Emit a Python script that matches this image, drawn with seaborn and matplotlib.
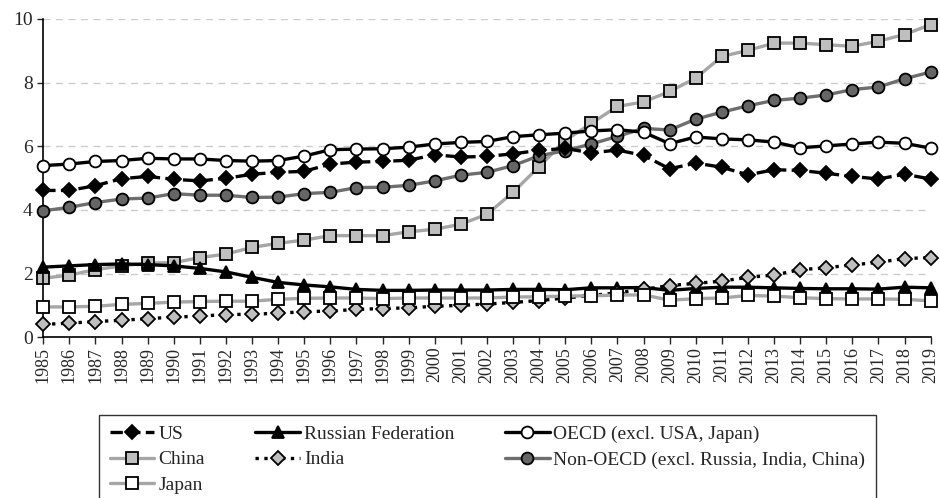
import matplotlib
matplotlib.use("Agg")
import matplotlib.pyplot as plt
import seaborn as sns
import pandas as pd

years = list(range(1985, 2020))

us = [4.61, 4.61, 4.76, 4.98, 5.05, 4.96, 4.91, 4.99, 5.12, 5.18,
      5.21, 5.44, 5.50, 5.52, 5.56, 5.73, 5.66, 5.68, 5.76, 5.87,
      5.93, 5.79, 5.88, 5.71, 5.29, 5.47, 5.34, 5.10, 5.26, 5.24,
      5.15, 5.05, 4.97, 5.12, 4.97]
russia = [2.20, 2.24, 2.28, 2.30, 2.28, 2.24, 2.16, 2.05, 1.88, 1.72,
          1.64, 1.58, 1.50, 1.47, 1.47, 1.48, 1.48, 1.48, 1.50, 1.50,
          1.49, 1.55, 1.55, 1.56, 1.47, 1.53, 1.57, 1.57, 1.55, 1.53,
          1.52, 1.52, 1.51, 1.57, 1.55]
oecd = [5.39, 5.44, 5.52, 5.55, 5.62, 5.60, 5.60, 5.55, 5.53, 5.55,
        5.69, 5.89, 5.91, 5.92, 5.97, 6.07, 6.12, 6.15, 6.30, 6.36,
        6.41, 6.48, 6.52, 6.44, 6.08, 6.29, 6.23, 6.20, 6.13, 5.95,
        6.01, 6.07, 6.13, 6.09, 5.94]
china = [1.85, 1.95, 2.12, 2.24, 2.33, 2.34, 2.50, 2.61, 2.82, 2.95,
         3.05, 3.19, 3.19, 3.19, 3.31, 3.39, 3.55, 3.86, 4.55, 5.36,
         6.18, 6.72, 7.25, 7.39, 7.72, 8.14, 8.82, 9.01, 9.24, 9.24,
         9.19, 9.14, 9.30, 9.51, 9.82]
india = [0.40, 0.44, 0.49, 0.53, 0.58, 0.63, 0.66, 0.71, 0.72, 0.75,
         0.80, 0.82, 0.87, 0.90, 0.92, 0.97, 1.00, 1.04, 1.09, 1.15,
         1.23, 1.31, 1.39, 1.50, 1.62, 1.69, 1.76, 1.88, 1.95, 2.12,
         2.18, 2.27, 2.35, 2.47, 2.50]
non_oecd = [3.97, 4.08, 4.23, 4.34, 4.37, 4.51, 4.46, 4.46, 4.39, 4.40,
            4.51, 4.55, 4.70, 4.71, 4.77, 4.91, 5.09, 5.18, 5.39, 5.70,
            5.86, 6.07, 6.31, 6.56, 6.51, 6.85, 7.07, 7.27, 7.44, 7.51,
            7.61, 7.78, 7.86, 8.12, 8.33]
japan = [0.95, 0.95, 0.97, 1.03, 1.06, 1.10, 1.12, 1.13, 1.13, 1.19,
         1.22, 1.23, 1.23, 1.21, 1.23, 1.23, 1.23, 1.23, 1.26, 1.27,
         1.29, 1.30, 1.32, 1.33, 1.16, 1.21, 1.23, 1.31, 1.29, 1.24,
         1.21, 1.20, 1.20, 1.19, 1.14]

sns.set_style("white")
plt.rcParams['font.family'] = ['Liberation Serif', 'DejaVu Serif']

# name, values, line colour, linestyle, marker, face colour, zorder
series = [
    ("US", us, "black", "--", "D", "black", 4),
    ("China", china, "#a6a6a6", "-", "s", "#bfbfbf", 2),
    ("Japan", japan, "#a6a6a6", "-", "s", "white", 7),
    ("Russian Federation", russia, "black", "-", "^", "black", 5),
    ("India", india, "black", ":", "D", "#bfbfbf", 6),
    ("OECD (excl. USA, Japan)", oecd, "black", "-", "o", "white", 8),
    ("Non-OECD (excl. Russia, India, China)", non_oecd, "#6e6e6e", "-", "o", "#666666", 3),
]

fig, ax = plt.subplots(figsize=(9.4, 4.98), dpi=100)
fig.subplots_adjust(left=0.046, right=0.990, bottom=0.323, top=0.962)

for name, vals, lc, ls, mk, fc, z in series:
    df = pd.DataFrame({"year": years, "value": vals})
    ms = 7.5 if mk == "D" else 8.5
    sns.lineplot(data=df, x="year", y="value", ax=ax, color=lc, linestyle=ls,
                 linewidth=2.4, marker=mk, markersize=ms, markerfacecolor=fc,
                 markeredgecolor="black", markeredgewidth=1.3, label=name,
                 zorder=z, clip_on=False)

ax.set_xlim(1985, 2019)
ax.set_ylim(0, 10)
ax.set_yticks(range(0, 11, 2))
ax.set_xticks(years)
ax.set_xticklabels([str(y) for y in years], rotation=90, fontsize=13)
ax.tick_params(axis='y', labelsize=14, length=4, width=1, direction='out', left=True)
ax.tick_params(axis='x', length=5, width=1, direction='out', bottom=True, pad=2)
ax.set_xlabel("")
ax.set_ylabel("")
ax.yaxis.grid(True, linestyle=(0, (5, 4)), color="#cccccc", linewidth=1)
ax.set_axisbelow(True)
sns.despine(ax=ax)
for sp in ["left", "bottom"]:
    ax.spines[sp].set_color("black")
    ax.spines[sp].set_linewidth(1.2)

handles, labels = ax.get_legend_handles_labels()
ax.get_legend().remove()
leg = fig.legend(handles, labels, ncol=3, loc="lower center",
                 bbox_to_anchor=(0.5186, -0.033), fontsize=14, frameon=True,
                 fancybox=False, edgecolor="black", handlelength=2.3,
                 columnspacing=2.6, handletextpad=0.2, labelspacing=0.41,
                 borderpad=0.55)
leg.get_frame().set_linewidth(1.0)

fig.savefig("out.png", dpi=100)
